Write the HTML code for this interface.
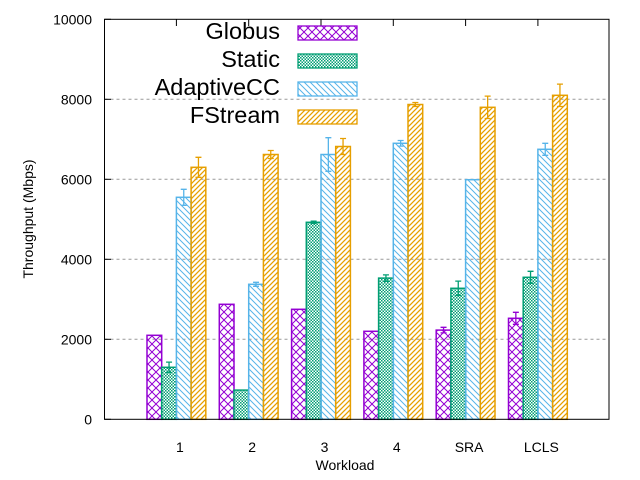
<!DOCTYPE html>
<html><head><meta charset="utf-8"><style>
body{margin:0;background:#fff}
svg{display:block;font-family:"Liberation Sans",sans-serif}
</style></head><body>
<svg id="chart" width="640" height="480">
<defs>
<pattern id="p0" patternUnits="userSpaceOnUse" width="8" height="8"><path d="M0,0L8,8M8,0L0,8" stroke="#9400d3" stroke-width="1" fill="none"/></pattern>
<pattern id="p1" patternUnits="userSpaceOnUse" width="3" height="3"><rect width="3" height="3" fill="#fff"/><rect width="1.5" height="1.5" fill="#009e73"/><rect x="1.5" y="1.5" width="1.5" height="1.5" fill="#009e73"/></pattern>
<pattern id="p2" patternUnits="userSpaceOnUse" width="6" height="6"><path d="M-1,-1L7,7M-1,5L1,7M5,-1L7,1" stroke="#56b4e9" stroke-width="1" fill="none"/></pattern>
<pattern id="p3" patternUnits="userSpaceOnUse" width="5" height="5"><path d="M0,5L5,0M-1,1L1,-1M4,6L6,4" stroke="#e69f00" stroke-width="1.3" fill="none"/></pattern>
</defs>
<g id="grid"></g>
<g id="bars"></g>
<rect x="104.5" y="19.3" width="504.5" height="400" fill="none" stroke="#000"/>
<g id="axes"></g>
<text x="345" y="470" font-size="14" text-anchor="middle">Workload</text>
<text transform="translate(33,219) rotate(-90)" font-size="14" text-anchor="middle">Throughput (Mbps)</text>
<g id="legend"></g>
</svg>
<script>
const categories=["1","2","3","4","SRA","LCLS"];
const seriesNames=["Globus","Static","AdaptiveCC","FStream"];
const globus=[2100,2875,2750,2200,2230,2525];
const staticV=[1300,730,4925,3530,3275,3550];
const adaptive=[5550,3375,6620,6900,5990,6750];
const fstream=[6300,6620,6820,7870,7800,8100];
const globusErr=[0,0,0,0,70,150];
const staticErr=[130,0,30,80,180,150];
const adaptiveErr=[200,50,420,70,0,150];
const fstreamErr=[250,100,200,50,280,280];
const yTicks=[0,2000,4000,6000,8000,10000];
const colors=["#9400d3","#009e73","#56b4e9","#e69f00"];
const NS="http://www.w3.org/2000/svg";
const y=v=>419.3-v*0.04;
const groupX=i=>147+i*72.3;
const bw=14.7;
function mk(tag,attrs,parent){const e=document.createElementNS(NS,tag);for(const k in attrs)e.setAttribute(k,attrs[k]);parent.appendChild(e);return e;}
const grid=document.getElementById('grid'),axes=document.getElementById('axes'),bars=document.getElementById('bars'),leg=document.getElementById('legend');
yTicks.forEach(t=>{
 if(t>0&&t<10000){const l=mk('line',{x1:104.5,x2:609,y1:y(t),y2:y(t),stroke:'#999','stroke-dasharray':'3,3'},grid);
 
 }
 const tk=mk('line',{x1:104.5,x2:111,y1:y(t),y2:y(t),stroke:'#000'},axes);
 
 
 const tx=mk('text',{x:92,y:y(t)+5,'font-size':14,'text-anchor':'end'},axes);tx.textContent=t;
 
 
});
const data=[globus,staticV,adaptive,fstream],errs=[globusErr,staticErr,adaptiveErr,fstreamErr];
categories.forEach((c,i)=>{
 const cx=groupX(i)+2*bw;
 const tk=mk('line',{x1:cx,x2:cx,y1:19.3,y2:26,stroke:'#000'},axes);
 
 
 const tx=mk('text',{x:cx+3.5,y:452,'font-size':14,'text-anchor':'middle'},axes);tx.textContent=c;
 
 
 data.forEach((s,k)=>{
  const x=groupX(i)+k*bw,v=s[i];
  const r=mk('rect',{x:x,y:y(v),width:bw,height:419.3-y(v),fill:'url(#p'+k+')',stroke:colors[k],'stroke-width':1.5},bars);
  
  
  const e=errs[k][i];
  if(e>0){const m=x+bw/2;
   const p=mk('path',{d:`M${m},${y(v+e)}V${y(v-e)}M${m-3},${y(v+e)}H${m+3}M${m-3},${y(v-e)}H${m+3}`,stroke:colors[k],'stroke-width':1.3,fill:'none'},bars);
   
   }
 });
});
seriesNames.forEach((n,k)=>{
 const yy=31+k*28;
 const t=mk('text',{x:280,y:yy+8,'font-size':23.5,'text-anchor':'end'},leg);t.textContent=n;
 
 
 const r=mk('rect',{x:298,y:yy-5,width:59,height:14,fill:'url(#p'+k+')',stroke:colors[k],'stroke-width':1.3},leg);
 
 
});
</script>
</body></html>
